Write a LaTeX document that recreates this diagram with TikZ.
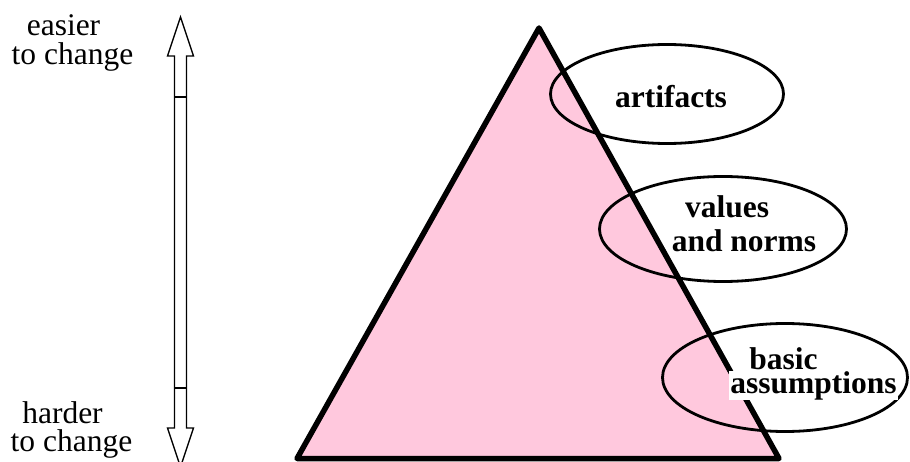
\documentclass[tikz,border=0pt]{standalone}
\usepackage{fontspec}
\setmainfont{Liberation Serif}
\usetikzlibrary{shapes.geometric}
\definecolor{pyrpink}{RGB}{255,200,221}
\tikzset{
  sidetext/.style={anchor=base, inner sep=0pt, font=\fontsize{31.5}{31.5}\selectfont},
  boldtext/.style={anchor=base, inner sep=0pt, font=\fontsize{31.5}{31.5}\selectfont\bfseries},
  layer/.style={ellipse, draw, line width=2.8pt, inner sep=0pt},
  hollowarrow/.style={draw, line width=1.3pt, line join=miter, fill=white}
}
\begin{document}
\begin{tikzpicture}[x=1pt,y=-1pt]
\useasboundingbox (0,0) rectangle (910,462);
% side captions
\node[sidetext] (e1) at (63.5,36) {easier};
\node[sidetext] (e2) at (72.5,65) {to change};
\node[sidetext] (h1) at (62.5,423) {harder};
\node[sidetext] (h2) at (71.5,451) {to change};
% double hollow arrow
\coordinate (topTip) at (180.5,17);
\coordinate (botTip) at (180.5,467);
\draw[hollowarrow] (topTip) -- (193.5,56) -- (186.5,56) -- (186.5,428) -- (193.5,428)
  -- (botTip) -- (167.5,428) -- (174.5,428) -- (174.5,56) -- (167.5,56) -- cycle;
\draw[line width=1.3pt] (174.5,97) -- (186.5,97);
\draw[line width=1.3pt] (174.5,388) -- (186.5,388);
% pyramid
\coordinate (apex) at (539,28);
\coordinate (bl) at (297,458.5);
\coordinate (br) at (779,458.5);
\draw[line width=5.5pt, line join=round, fill=pyrpink] (apex) -- (br) -- (bl) -- cycle;
% layers
\node[layer, minimum width=233pt, minimum height=99pt] (art) at (667,94) {};
\node[layer, minimum width=247pt, minimum height=105pt] (val) at (723,229) {};
\node[layer, minimum width=245pt, minimum height=108pt] (bas) at (785,377.5) {};
% labels
\node[boldtext] (tart) at (671,108) {artifacts};
\node[boldtext] (tval1) at (727,218) {values};
\node[boldtext] (tval2) at (744,252) {and norms};
\node[boldtext] (tbas1) at (783.5,369) {basic};
\node[boldtext, fill=white, inner xsep=1pt, inner ysep=0.3pt] (tbas2) at (813.5,393) {assumptions};
\end{tikzpicture}
\end{document}
